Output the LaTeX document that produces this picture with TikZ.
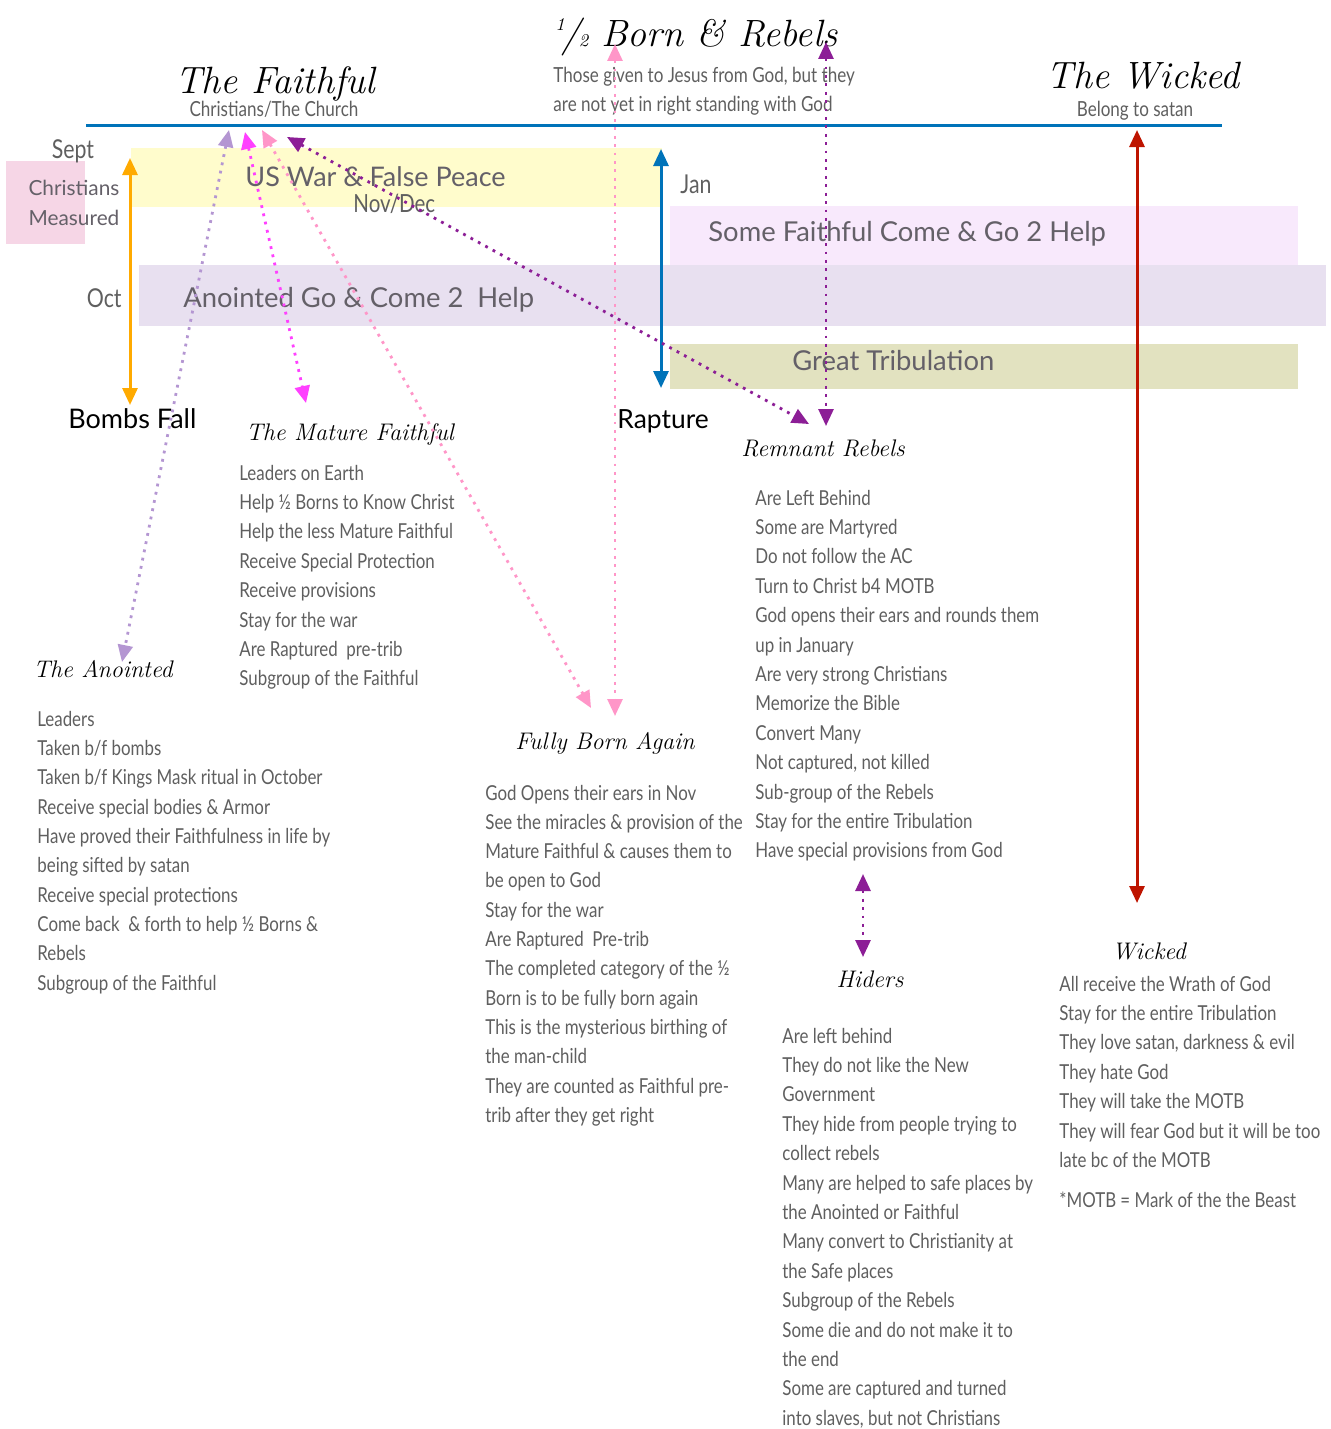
\documentclass[tikz,border=0pt]{standalone}
\usepackage{fontspec}
\newfontfamily\listfont[FakeStretch=0.82]{Lato}
\newfontfamily\bandfont{Lato}
\usetikzlibrary{arrows.meta}

\definecolor{txtgray}{RGB}{95,95,95}
\definecolor{bandtxt}{RGB}{100,96,104}
\definecolor{linkblue}{RGB}{0,115,185}
\definecolor{warband}{RGB}{255,252,204}
\definecolor{anoband}{RGB}{232,224,240}
\definecolor{someband}{RGB}{248,233,252}
\definecolor{tribband}{RGB}{226,226,192}
\definecolor{measbox}{RGB}{246,214,230}
\definecolor{bombs}{RGB}{255,170,0}
\definecolor{wickred}{RGB}{190,20,0}
\definecolor{lav}{RGB}{180,150,210}
\definecolor{mag}{RGB}{255,64,255}
\definecolor{pinky}{RGB}{255,150,200}
\definecolor{purp}{RGB}{140,30,150}

\begin{document}
\begin{tikzpicture}[x=0.5pt, y=-0.5pt,
every node/.style={inner sep=0pt},
title/.style={font=\itshape\fontsize{19}{23}\selectfont, anchor=base},
subtitle/.style={font=\itshape\fontsize{12}{15}\selectfont, anchor=base},
item/.style={font=\listfont\fontsize{10.3}{12}\selectfont, text=txtgray, anchor=base west},
month/.style={font=\listfont\fontsize{13}{15}\selectfont, text=txtgray, anchor=base west},
bandlabel/.style={font=\bandfont\fontsize{13.7}{16}\selectfont, text=bandtxt, anchor=base west},
event/.style={font=\bandfont\fontsize{13.5}{16}\selectfont, anchor=base west},
>={Triangle[length=8.5pt,width=7.5pt]},
solidarrow/.style={<->, line width=1.5pt},
dotarrow/.style={<->, line width=1.4pt, dash pattern=on 1.4pt off 2.8pt}
]
\useasboundingbox (0,0) rectangle (1330,1429);

% bands
\fill[measbox] (6,161) rectangle (85,244);
\fill[warband] (131,148) rectangle (662,207);
\fill[someband] (670,206) rectangle (1298,265);
\fill[anoband] (139,265) rectangle (1326,326);
\fill[tribband] (670,344) rectangle (1298,389);
\draw[linkblue, line width=1.5pt] (86,126) -- (1222,126);

% headings
\node[title] (faithful) at (275,94) {The Faithful};
\node[item, anchor=base, font=\listfont\fontsize{10.4}{12}\selectfont] (church) at (274,117) {Christians/The Church};
\node[title, anchor=base west] (half) at (555,47) {\raisebox{8pt}{\fontsize{9}{9}\selectfont 1}\kern-1.5pt/\kern-1pt{\fontsize{9}{9}\selectfont 2} Born \& Rebels};
\node[item, font=\listfont\fontsize{10.4}{12}\selectfont] (given1) at (553,83) {Those given to Jesus from God, but they};
\node[item, font=\listfont\fontsize{10.4}{12}\selectfont] (given2) at (553,112) {are not yet in right standing with God};
\node[title] (wicked) at (1143,89) {The Wicked};
\node[item, anchor=base, font=\listfont\fontsize{10.4}{12}\selectfont] (satan) at (1135,117) {Belong to satan};

% time line labels
\node[month, anchor=base] (sept) at (73,158) {Sept};
\node[bandlabel, anchor=base, font=\bandfont\fontsize{10.4}{12}\selectfont] (meas1) at (74,195) {Christians};
\node[bandlabel, anchor=base, font=\bandfont\fontsize{10.4}{12}\selectfont] (meas2) at (74,225) {Measured};
\node[month, anchor=base east] (oct) at (122,307) {Oct};
\node[month] (jan) at (680,193) {Jan};
\node[month, font=\listfont\fontsize{12.5}{15}\selectfont] (novdec) at (353,212) {Nov/Dec};
\node[bandlabel, font=\bandfont\fontsize{13.5}{16}\selectfont] (war) at (245,186) {US War \& False Peace};
\node[bandlabel] (somehelp) at (708,241) {Some Faithful Come \& Go 2 Help};
\node[bandlabel] (anohelp) at (183,307) {Anointed Go \& Come 2\ \ Help};
\node[bandlabel] (trib) at (792,370) {Great Tribulation};
\node[event] (bombsfall) at (68,428) {Bombs Fall};
\node[event, font=\bandfont\fontsize{13.2}{16}\selectfont] (rapture) at (617,428) {Rapture};

% groups
\node[subtitle] (mature) at (350,440) {The Mature Faithful};
\node[subtitle] (anointed) at (103,677) {The Anointed};
\node[subtitle] (fullyborn) at (605,749) {Fully Born Again};
\node[subtitle] (remnant) at (823,456) {Remnant Rebels};
\node[subtitle] (hiders) at (870,987) {Hiders};
\node[subtitle] (wick) at (1149,959) {Wicked};

\foreach \t [count=\i from 0] in {Leaders on Earth, Help ½ Borns to Know Christ,
    Help the less Mature Faithful, Receive Special Protection, Receive provisions,
    Stay for the war, Are Raptured\ \ pre-trib, Subgroup of the Faithful}
  \node[item] (mat-\i) at (239,{480+29.4*\i}) {\t};

\foreach \t [count=\i from 0] in {Leaders, Taken b/f bombs,
    Taken b/f Kings Mask ritual in October, Receive special bodies \& Armor,
    Have proved their Faithfulness in life by, being sifted by satan,
    Receive special protections, Come back\ \ \& forth to help ½ Borns \&,
    Rebels, Subgroup of the Faithful}
  \node[item] (ano-\i) at (37,{726+29.35*\i}) {\t};

\foreach \t [count=\i from 0] in {God Opens their ears in Nov,
    See the miracles \& provision of the, Mature Faithful \& causes them to,
    be open to God, Stay for the war, Are Raptured\ \ Pre-trib,
    The completed category of the ½, Born is to be fully born again,
    This is the mysterious birthing of, the man-child,
    They are counted as Faithful pre-, trib after they get right}
  \node[item] (fba-\i) at (485,{800+29.3*\i}) {\t};

\foreach \t [count=\i from 0] in {Are Left Behind, Some are Martyred,
    Do not follow the AC, Turn to Christ b4 MOTB,
    God opens their ears and rounds them, up in January,
    Are very strong Christians, Memorize the Bible, Convert Many,
    {Not captured, not killed}, Sub-group of the Rebels,
    Stay for the entire Tribulation, Have special provisions from God}
  \node[item] (rem-\i) at (755,{505+29.4*\i}) {\t};

\foreach \t [count=\i from 0] in {Are left behind, They do not like the New,
    Government, They hide from people trying to, collect rebels,
    Many are helped to safe places by, the Anointed or Faithful,
    Many convert to Christianity at, the Safe places, Subgroup of the Rebels,
    Some die and do not make it to, the end, Some are captured and turned,
    {into slaves, but not Christians}}
  \node[item] (hid-\i) at (782,{1043+29.4*\i}) {\t};

\foreach \t [count=\i from 0] in {All receive the Wrath of God,
    Stay for the entire Tribulation, {They love satan, darkness \& evil},
    They hate God, They will take the MOTB,
    They will fear God but it will be too, late bc of the MOTB}
  \node[item] (wic-\i) at (1059,{991+29.4*\i}) {\t};
\node[item] (motb) at (1059,1207) {*MOTB = Mark of the the Beast};

% arrow ends
\coordinate (bombs-top) at (130,158);
\coordinate (bombs-end) at (130,405);
\coordinate (rap-top) at (661,149);
\coordinate (rap-end) at (661,388);
\coordinate (wick-top) at (1137,130);
\coordinate (wick-end) at (1137,903);
\coordinate (lav-top) at (229,130);
\coordinate (lav-end) at (122,662);
\coordinate (mag-top) at (245,132);
\coordinate (mag-end) at (306,403);
\coordinate (pink-top) at (262,130);
\coordinate (pink-end) at (591,708);
\coordinate (purp-top) at (287,137);
\coordinate (purp-end) at (809,424);
\coordinate (half-top) at (615,44);
\coordinate (half-end) at (615,716);
\coordinate (reb-top) at (826,42);
\coordinate (reb-end) at (826,426);
\coordinate (hid-top) at (863,874);
\coordinate (hid-end) at (863,957);

\draw[solidarrow, bombs] (bombs-top) -- (bombs-end);
\draw[solidarrow, linkblue] (rap-top) -- (rap-end);
\draw[solidarrow, wickred] (wick-top) -- (wick-end);
\foreach \a/\c in {lav/lav, mag/mag, pink/pinky, purp/purp,
                   half/pinky, reb/purp, hid/purp}
  \draw[dotarrow, \c] (\a-top) -- (\a-end);
\end{tikzpicture}
\end{document}
